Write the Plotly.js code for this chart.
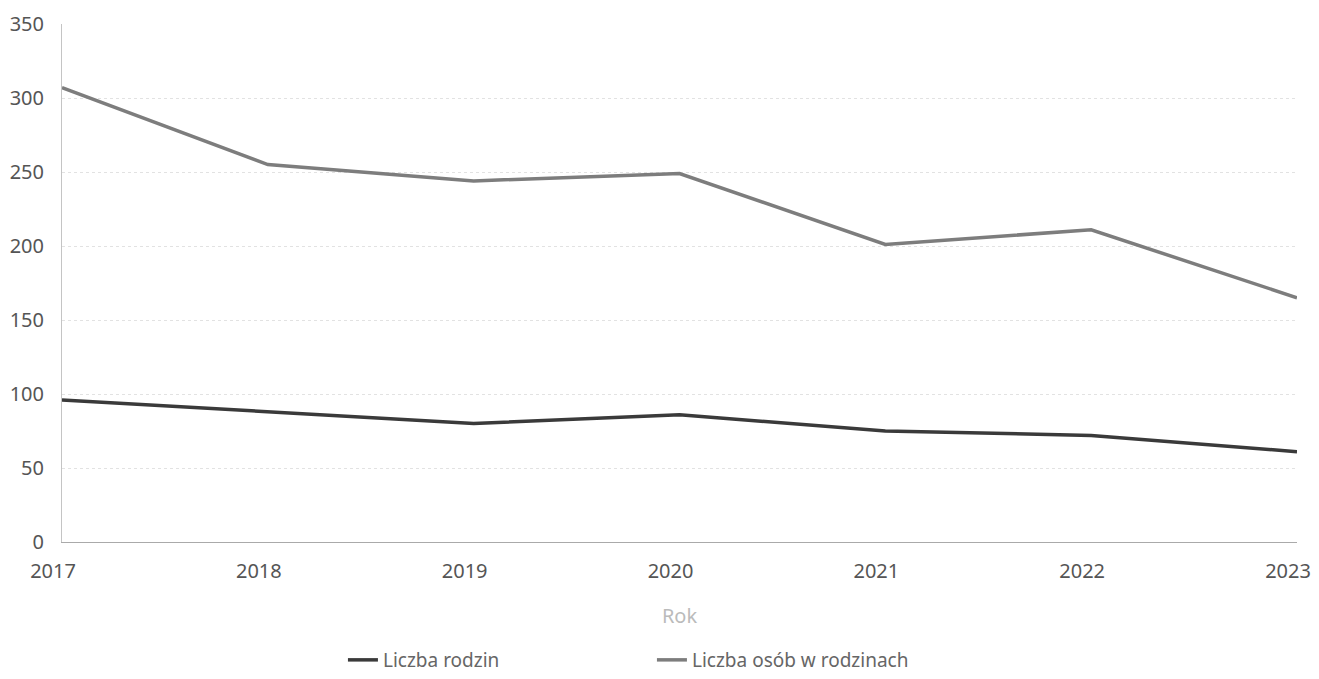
<!DOCTYPE html>
<html>
<head>
<meta charset="utf-8">
<script src="https://cdn.plot.ly/plotly-3.0.1.min.js"></script>
<style>html,body{margin:0;padding:0;background:#fff;}#chart{width:1319px;height:679px;}</style>
</head>
<body>
<div id="chart"></div>
<script>
var years = [2017, 2018, 2019, 2020, 2021, 2022, 2023];
var liczbaRodzin = [96, 88, 80, 86, 75, 72, 61];
var liczbaOsob = [307, 255, 244, 249, 201, 211, 165];
var seriesNames = ['Liczba rodzin', 'Liczba osób w rodzinach'];
var yTicks = [0, 50, 100, 150, 200, 250, 300, 350];

var font = "'Noto Sans', 'Open Sans', sans-serif";
var traces = [
  {x: years, y: liczbaRodzin, name: seriesNames[0], type: 'scatter', mode: 'lines',
   line: {color: '#3a3a3a', width: 3.5}},
  {x: years, y: liczbaOsob, name: seriesNames[1], type: 'scatter', mode: 'lines',
   line: {color: '#7d7d7d', width: 3.5}}
];
var layout = {
  width: 1319, height: 679,
  margin: {l: 62, r: 22, t: 24, b: 137},
  paper_bgcolor: '#fff', plot_bgcolor: '#fff',
  font: {family: font, color: '#555', size: 20},
  showlegend: true,
  legend: {orientation: 'h', xref: 'container', yref: 'container', x: 0.26, y: -0.01,
           xanchor: 'left', yanchor: 'bottom', entrywidth: 264,
           font: {size: 19, color: '#666', family: font}},
  xaxis: {
    range: [2017, 2023], tickvals: years, ticktext: years.map(String),
    showgrid: false, zeroline: false,
    showline: true, linecolor: '#aaa', linewidth: 1,
    ticks: '', ticklabelstandoff: 11, ticklabelshift: -9, ticklabeloverflow: 'allow',
    tickfont: {size: 20, color: '#555'},
    title: {text: 'Rok', font: {size: 20, color: '#bbb'}, standoff: 25}
  },
  yaxis: {
    range: [0, 350], tickvals: yTicks,
    showgrid: true, gridcolor: '#e2e2e2', griddash: 'dot', gridwidth: 1,
    zeroline: false,
    showline: true, linecolor: '#c4c4c4', linewidth: 1,
    ticks: '', ticklabelstandoff: 13,
    tickfont: {size: 20, color: '#555'}
  }
};
Plotly.newPlot('chart', traces, layout, {displayModeBar: false, staticPlot: true});
</script>
</body>
</html>
